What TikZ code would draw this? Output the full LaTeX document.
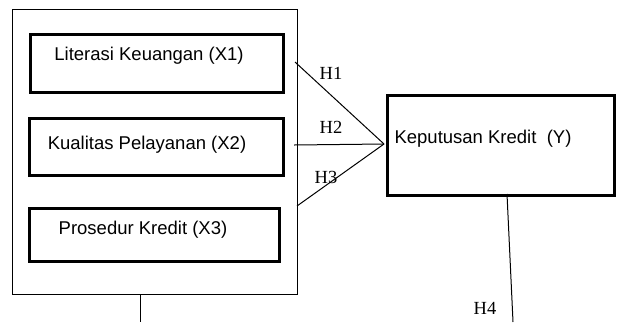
\documentclass[tikz,border=0pt]{standalone}
\usepackage{fontspec}
\setmainfont{Liberation Sans}
\newfontfamily\hfont{Liberation Serif}
\begin{document}
\begin{tikzpicture}[x=1pt,y=-1pt,
  thinline/.style={draw=black,line width=1pt},
  varbox/.style={draw=black,line width=3pt,inner sep=0pt,anchor=north west},
  lbl/.style={font=\fontsize{18.5}{22}\selectfont,inner sep=0pt},
  hlbl/.style={font=\hfont\fontsize{18.5}{22}\selectfont,inner sep=0pt}]
\useasboundingbox (0,0) rectangle (617,322);
% outer frame
\node[thinline,inner sep=0pt,anchor=north west,minimum width=285pt,minimum height=285pt] (outer) at (12,9) {};
% inner boxes
\node[varbox,minimum width=253pt,minimum height=58pt] (x1) at (29,33) {};
\node[varbox,minimum width=254pt,minimum height=57pt] (x2) at (28,117) {};
\node[varbox,minimum width=250pt,minimum height=53pt] (x3) at (28,207) {};
\node[lbl] (t1) at (149,56) {Literasi Keuangan (X1)};
\node[lbl] (t2) at (147,145) {Kualitas Pelayanan (X2)};
\node[lbl] (t3) at (143,230) {Prosedur Kredit (X3)};
% dependent
\node[varbox,minimum width=227pt,minimum height=100pt] (y) at (386,94) {};
\node[lbl] (ty) at (483,139) {Keputusan Kredit\ \ (Y)};
% connectors
\coordinate (a1) at (295,62);
\coordinate (a2) at (294,145);
\coordinate (a3) at (297,206);
\coordinate (apex) at (384,144);
\draw[thinline] (a1) -- (apex);
\draw[thinline] (a2) -- (apex);
\draw[thinline] (a3) -- (apex);
\coordinate (ob) at (140,294);
\coordinate (obe) at (140,322);
\draw[thinline] (ob) -- (obe);
\coordinate (yb) at (507,194);
\coordinate (ybe) at (513,322);
\draw[thinline] (yb) -- (ybe);
% labels
\node[hlbl] (h1) at (331,73) {H1};
\node[hlbl] (h2) at (331,127) {H2};
\node[hlbl] (h3) at (326,177) {H3};
\node[hlbl] (h4) at (485,308) {H4};
\end{tikzpicture}
\end{document}
